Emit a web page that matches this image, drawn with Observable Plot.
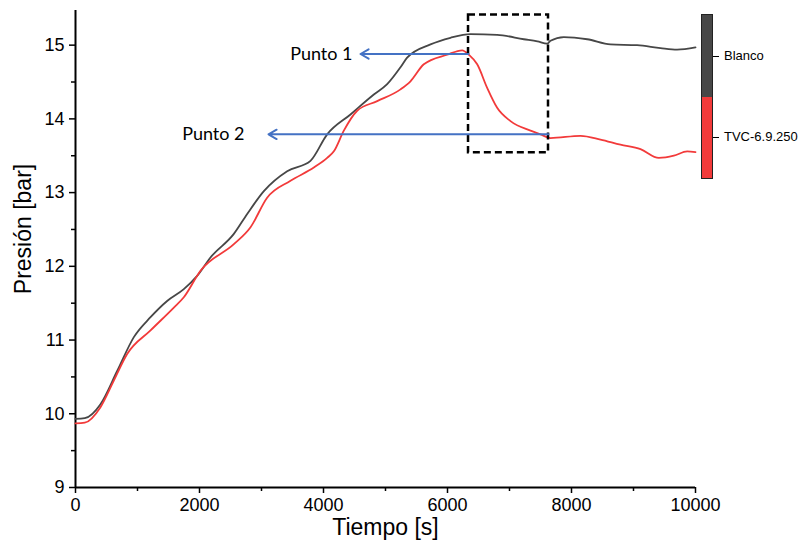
<!DOCTYPE html>
<html>
<head>
<meta charset="utf-8">
<script src="https://cdn.jsdelivr.net/npm/d3@7"></script>
<script src="https://cdn.jsdelivr.net/npm/@observablehq/plot@0.6"></script>
<style>
  html, body { margin: 0; padding: 0; background: #fff; }
  #wrap { position: relative; width: 800px; height: 550px; }
  #chart svg { font-family: "Liberation Sans", Arial, sans-serif; }
  .leg { position: absolute; font-family: "Liberation Sans", Arial, sans-serif; font-size: 13px; color: #000; }
</style>
</head>
<body>
<div id="wrap"><div id="chart"></div></div>
<script>
// Time (s) and pressure (bar)
const blancoT = [0, 150, 403, 672, 941, 1210, 1478, 1747, 1962, 2177, 2554, 2769, 3038, 3414, 3790, 4059, 4435, 4812, 5027, 5242, 5349, 5726, 6048, 6371, 6801, 7231, 7450, 7608, 7661, 7876, 8253, 8629, 9059, 9435, 9704, 10000];
const blancoP = [9.93, 9.94, 10.13, 10.58, 11.04, 11.31, 11.53, 11.69, 11.87, 12.12, 12.44, 12.71, 13.02, 13.29, 13.43, 13.79, 14.06, 14.33, 14.47, 14.70, 14.83, 15.01, 15.10, 15.15, 15.14, 15.08, 15.05, 15.02, 15.06, 15.11, 15.08, 15.01, 15.00, 14.96, 14.94, 14.97];
const tvcT = [0, 150, 403, 618, 833, 1210, 1586, 1747, 2016, 2554, 2823, 3091, 3468, 3844, 4059, 4167, 4328, 4543, 4866, 5242, 5403, 5618, 5995, 6237, 6344, 6479, 6640, 6801, 7016, 7339, 7500, 7661, 8145, 8468, 8790, 9113, 9409, 9651, 9866, 10000];
const tvcP = [9.87, 9.88, 10.09, 10.45, 10.81, 11.13, 11.44, 11.58, 11.94, 12.30, 12.53, 12.93, 13.16, 13.34, 13.47, 13.56, 13.84, 14.11, 14.24, 14.40, 14.51, 14.74, 14.87, 14.93, 14.87, 14.74, 14.42, 14.15, 13.97, 13.84, 13.79, 13.74, 13.77, 13.72, 13.65, 13.59, 13.47, 13.50, 13.56, 13.55];

const seriesNames = ["Blanco", "TVC-6.9.250"];
const seriesColors = ["#474747", "#f23a3a"];

const xTicks = [0, 2000, 4000, 6000, 8000, 10000];
const xMinorTicks = [1000, 3000, 5000, 7000, 9000];
const yTicks = [9, 10, 11, 12, 13, 14, 15];
const yMinorTicks = [9.5, 10.5, 11.5, 12.5, 13.5, 14.5];
const xTitle = "Tiempo [s]";
const yTitle = "Presión [bar]";

// dashed box (x1, x2, y1, y2)
const boxX = [6339, 7629];
const boxY = [13.54, 15.41];

// annotation arrows: from (x1,y) to (x2,y)
const arrowLabels = ["Punto 1", "Punto 2"];
const arrowFrom = [6339, 7629];
const arrowTo = [4597, 3113];
const arrowY = [14.88, 13.79];
const labelX = [4468, 2726];

const lines = [];
blancoT.forEach((t, i) => lines.push({t, p: blancoP[i], s: seriesNames[0]}));
tvcT.forEach((t, i) => lines.push({t, p: tvcP[i], s: seriesNames[1]}));
const arrows = arrowLabels.map((l, i) => ({l, x1: arrowFrom[i], x2: arrowTo[i], y: arrowY[i], lx: labelX[i]}));
const box = [{x1: boxX[0], x2: boxX[1], y1: boxY[0], y2: boxY[1]}];

const chart = Plot.plot({
  width: 800,
  height: 550,
  marginLeft: 75,
  marginRight: 105,
  marginTop: 10,
  marginBottom: 63,
  x: {domain: [0, 10000]},
  y: {domain: [9, 15.47]},
  color: {domain: seriesNames, range: seriesColors},
  marks: [
    Plot.axisX({ticks: xTicks, tickSize: 6, tickPadding: 5, fontSize: 18, tickFormat: d => String(d), label: null, strokeWidth: 1.5, stroke: "#000", color: "#000"}),
    Plot.axisX({ticks: xMinorTicks, tickSize: 4, text: null, label: null, strokeWidth: 1.5, stroke: "#000"}),
    Plot.axisY({ticks: yTicks, tickSize: 6, tickPadding: 5, fontSize: 18, tickFormat: d => String(d), label: null, strokeWidth: 1.5, stroke: "#000", color: "#000"}),
    Plot.axisY({ticks: yMinorTicks, tickSize: 4, text: null, label: null, strokeWidth: 1.5, stroke: "#000"}),
    Plot.ruleX([0], {stroke: "#000", strokeWidth: 2}),
    Plot.ruleY([9], {stroke: "#000", strokeWidth: 2}),
    Plot.text([xTitle], {frameAnchor: "bottom", textAnchor: "middle", lineAnchor: "middle", dy: 40, text: d => d, fontSize: 23, fontFamily: "Liberation Sans, Arial, sans-serif", fill: "#000"}),
    Plot.text([yTitle], {frameAnchor: "left", textAnchor: "middle", lineAnchor: "middle", dx: -52, dy: -20, rotate: -90, text: d => d, fontSize: 23, fontFamily: "Liberation Sans, Arial, sans-serif", fill: "#000"}),
    Plot.line(lines, {x: "t", y: "p", z: "s", stroke: "s", strokeWidth: 1.8, curve: "monotone-x"}),
    Plot.rect(box, {x1: "x1", x2: "x2", y1: "y1", y2: "y2", fill: "none", stroke: "#000", strokeWidth: 2.5, strokeDasharray: "7,4"}),
    Plot.arrow(arrows, {x1: "x1", x2: "x2", y1: "y", y2: "y", stroke: "#4472c4", strokeWidth: 2, headLength: 7, bend: 0}),
    Plot.text(arrows, {x: "lx", y: "y", text: "l", textAnchor: "end", fontSize: 18, fontFamily: "Lato, sans-serif", fill: "#000"})
  ]
});
document.getElementById("chart").appendChild(chart);

// colour-bar style legend at the right
const wrap = document.getElementById("wrap");
const legTop = 15, legH = 163, legX = 702, legW = 10;
seriesNames.forEach((name, i) => {
  const seg = document.createElement("div");
  const h = legH / seriesNames.length;
  seg.style.cssText = `position:absolute;left:${legX}px;top:${legTop + i * h}px;width:${legW}px;height:${h}px;background:${seriesColors[i]};`;
  wrap.appendChild(seg);
  const tick = document.createElement("div");
  tick.style.cssText = `position:absolute;left:${legX + legW}px;top:${legTop + i * h + h / 2}px;width:7px;height:1px;background:#000;`;
  wrap.appendChild(tick);
  const lab = document.createElement("div");
  lab.className = "leg";
  lab.textContent = name;
  lab.style.left = (legX + legW + 12) + "px";
  lab.style.top = (legTop + i * h + h / 2 - 8) + "px";
  wrap.appendChild(lab);
});
const border = document.createElement("div");
border.style.cssText = `position:absolute;left:${legX - 1}px;top:${legTop - 1}px;width:${legW}px;height:${legH}px;border:1px solid #222;`;
wrap.appendChild(border);
</script>
</body>
</html>
